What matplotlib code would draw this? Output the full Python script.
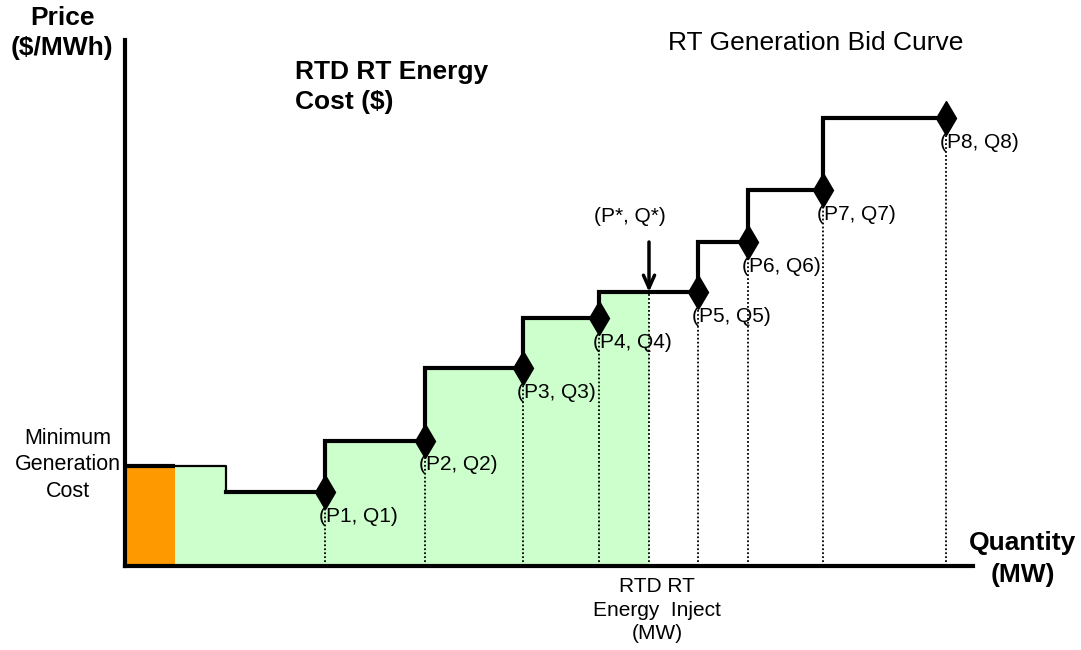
import matplotlib
matplotlib.use("Agg")
import matplotlib.pyplot as plt

plt.rcParams['font.family'] = ['Liberation Sans', 'DejaVu Sans']

# Bid curve break points (quantity in MW, price in $/MWh, arbitrary units)
point_labels = ["(P1, Q1)", "(P2, Q2)", "(P3, Q3)", "(P4, Q4)",
                "(P5, Q5)", "(P6, Q6)", "(P7, Q7)", "(P8, Q8)"]
quantities = [200, 300, 398, 474, 573, 623, 698, 821]
prices = [74, 125, 198, 248, 274, 324, 376, 448]

# Minimum generation block and the segment leading into the first bid step
min_gen_qty = 50
min_gen_price = 100
first_step_qty = 101

# Real-time dispatch point
q_star = 524
p_star = 274

W, H = 1081, 650
fig = plt.figure(figsize=(W / 100, H / 100), dpi=100)


def fx(px):
    return px / W


def fy(py):
    return 1 - py / H


ax = fig.add_axes([fx(125), fy(566), fx(973) - fx(125), fy(40) - fy(566)])
ax.set_xlim(0, 848)
ax.set_ylim(0, 526)
for side in ("top", "right"):
    ax.spines[side].set_visible(False)
for side in ("left", "bottom"):
    ax.spines[side].set_linewidth(3)
    ax.spines[side].set_color("black")
ax.set_xticks([])
ax.set_yticks([])

# Minimum generation cost block
ax.fill_between([0, min_gen_qty], [min_gen_price, min_gen_price],
                color="#FF9900", linewidth=0, zorder=1)

# Energy cost area up to the dispatch quantity
n_below = sum(1 for q in quantities if q < q_star)
edges = [min_gen_qty, first_step_qty] + quantities[:n_below] + [q_star]
levels = [min_gen_price] + prices[:n_below + 1] + [prices[n_below]]
ax.fill_between(edges, levels, step="post", color="#CCFFCC", linewidth=0, zorder=1)

# Dotted drop lines from each break point and the dispatch point
for q, p in zip(quantities, prices):
    ax.plot([q, q], [0, p], color="black", lw=1.3, ls=(0, (1, 1.2)), zorder=2)
ax.plot([q_star, q_star], [0, p_star], color="black", lw=1.3, ls=(0, (1, 1.2)), zorder=2)

# Bid curve
ax.plot([0, min_gen_qty], [min_gen_price, min_gen_price], color="black",
        lw=3, solid_capstyle="butt", zorder=3)
ax.plot([min_gen_qty, first_step_qty, first_step_qty],
        [min_gen_price, min_gen_price, prices[0]], color="black", lw=1.6, zorder=3)
ax.plot([first_step_qty] + quantities, prices + [prices[-1]], color="black",
        lw=3, drawstyle="steps-post", solid_joinstyle="miter", zorder=3)
ax.plot(quantities, prices, ls="none", marker="d", ms=17, color="black", zorder=4)

for lab, q, p in zip(point_labels, quantities, prices):
    ax.annotate(lab, xy=(q, p), xytext=(-6, -24), textcoords="offset pixels",
                ha="left", va="center", fontsize=15, zorder=5)

# Dispatch arrow
ax.annotate("", xy=(q_star, p_star), xytext=(q_star, p_star + 50),
            arrowprops=dict(arrowstyle="->,head_length=0.9,head_width=0.4",
                            lw=2.5, color="black", shrinkA=0, shrinkB=0))
ax.annotate("(P*, Q*)", xy=(q_star, p_star), xytext=(-19, 76),
            textcoords="offset pixels", ha="center", va="center", fontsize=15)

# Axis titles and annotations
fig.text(fx(62), fy(33), "Price\n($/MWh)", ha="center", va="center",
         fontsize=19, fontweight="bold", linespacing=1.27)
fig.text(fx(1023), fy(559), "Quantity\n(MW)", ha="center", va="center",
         fontsize=19, fontweight="bold", linespacing=1.4)
fig.text(fx(295), fy(87), "RTD RT Energy\nCost ($)", ha="left", va="center",
         fontsize=19, fontweight="bold", linespacing=1.27)
fig.text(fx(668), fy(43), "RT Generation Bid Curve", ha="left", va="center",
         fontsize=19)
fig.text(fx(68), fy(465), "Minimum\nGeneration\nCost", ha="center", va="center",
         fontsize=15.5, linespacing=1.32)
fig.text(fx(657), fy(610), "RTD RT\nEnergy  Inject\n(MW)", ha="center", va="center",
         fontsize=15, linespacing=1.33)

fig.savefig("out.png", dpi=100, facecolor="white")
